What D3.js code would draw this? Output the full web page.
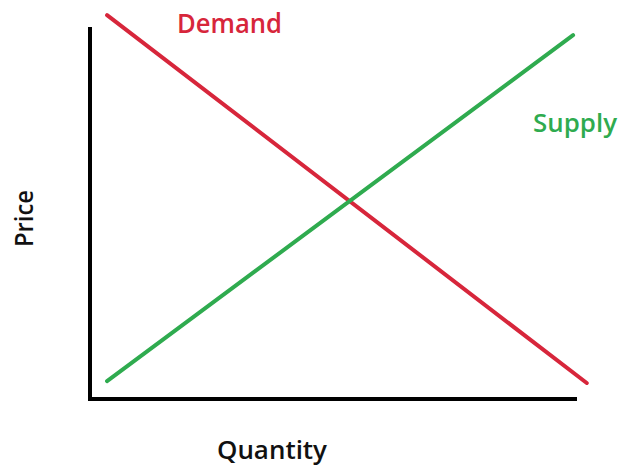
<!DOCTYPE html>
<html><head><meta charset="utf-8">
<script src="https://cdn.jsdelivr.net/npm/d3@7"></script>
<style>html,body{margin:0;padding:0;background:#fff;}</style>
</head><body>
<script>
const seriesNames = ["Demand", "Supply"];
const demandQ = [0.35, 10.2];
const demandP = [10.32, 0.43];
const supplyQ = [0.35, 9.92];
const supplyP = [0.48, 9.78];
const axisTitles = ["Quantity", "Price"];
const colors = ["#d7263b", "#2fab4f"];

const W = 621, H = 465;
const svg = d3.select("body").append("svg").attr("width", W).attr("height", H);
const x = d3.scaleLinear().domain([0, 10]).range([90, 577]);
const y = d3.scaleLinear().domain([0, 10]).range([399, 27]);

// axes
svg.append("path")
  .attr("d", `M${x(0)},${y(10)}V${y(0)}H${x(10)}`)
  .attr("fill", "none").attr("stroke", "#000").attr("stroke-width", 4)
  .attr("stroke-linejoin", "miter");

const line = d3.line().x(d => x(d[0])).y(d => y(d[1]));
const series = [
  demandQ.map((q, i) => [q, demandP[i]]),
  supplyQ.map((q, i) => [q, supplyP[i]])
];
series.forEach((s, i) => {
  svg.append("path").datum(s).attr("d", line)
    .attr("fill", "none").attr("stroke", colors[i]).attr("stroke-width", 4)
    .attr("stroke-linecap", "round");
});

const font = "'Open Sans', sans-serif";
svg.append("text").attr("x", 177).attr("y", 33).text(seriesNames[0])
  .attr("fill", colors[0]).attr("font-family", font).attr("font-weight", 600)
  .attr("font-size", 26.5).attr("textLength", 105).attr("lengthAdjust", "spacingAndGlyphs");
svg.append("text").attr("x", 533).attr("y", 132).text(seriesNames[1])
  .attr("fill", colors[1]).attr("font-family", font).attr("font-weight", 600)
  .attr("font-size", 24.5).attr("textLength", 84).attr("lengthAdjust", "spacingAndGlyphs");
svg.append("text").attr("x", 217).attr("y", 459).text(axisTitles[0])
  .attr("fill", "#111").attr("font-family", font).attr("font-weight", 600)
  .attr("font-size", 24.5).attr("textLength", 110).attr("lengthAdjust", "spacingAndGlyphs");
svg.append("text").attr("transform", "translate(33,247) rotate(-90)").text(axisTitles[1])
  .attr("fill", "#111").attr("font-family", font).attr("font-weight", 600)
  .attr("font-size", 26).attr("textLength", 57).attr("lengthAdjust", "spacingAndGlyphs");
</script>
</body></html>
